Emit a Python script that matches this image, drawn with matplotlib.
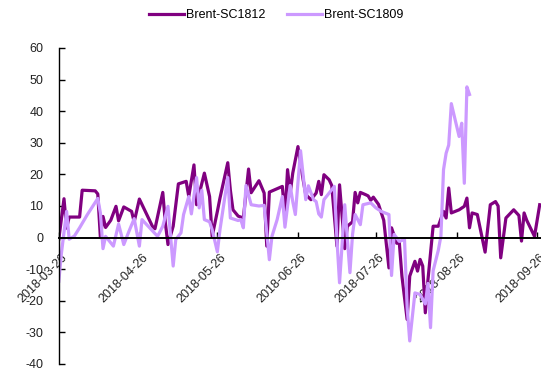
import numpy as np
import matplotlib
matplotlib.use("Agg")
import matplotlib.pyplot as plt
import matplotlib.dates as mdates
import matplotlib.transforms as mtransforms

plt.rcParams['font.family'] = ['Liberation Sans', 'DejaVu Sans']
plt.rcParams['axes.unicode_minus'] = False

# Brent - SC1812 价差
dates_1812 = [
    '2018-03-26', '2018-03-28', '2018-03-29', '2018-03-30', '2018-04-03', '2018-04-04',
    '2018-04-09', '2018-04-10', '2018-04-11', '2018-04-12', '2018-04-13', '2018-04-15',
    '2018-04-17', '2018-04-18', '2018-04-20', '2018-04-23', '2018-04-24', '2018-04-26',
    '2018-05-01', '2018-05-02', '2018-05-05', '2018-05-06', '2018-05-07', '2018-05-09',
    '2018-05-11', '2018-05-14', '2018-05-15', '2018-05-17', '2018-05-18', '2018-05-21',
    '2018-05-23', '2018-05-24', '2018-05-26', '2018-05-27', '2018-05-30', '2018-05-31',
    '2018-06-01', '2018-06-03', '2018-06-05', '2018-06-07', '2018-06-08', '2018-06-11',
    '2018-06-13', '2018-06-14', '2018-06-15', '2018-06-20', '2018-06-21', '2018-06-22',
    '2018-06-23', '2018-06-24', '2018-06-26', '2018-06-28', '2018-06-29', '2018-07-01',
    '2018-07-03', '2018-07-04', '2018-07-05', '2018-07-06', '2018-07-08', '2018-07-09',
    '2018-07-11', '2018-07-12', '2018-07-14', '2018-07-15', '2018-07-17', '2018-07-18',
    '2018-07-19', '2018-07-20', '2018-07-22', '2018-07-23', '2018-07-24', '2018-07-25',
    '2018-07-27', '2018-07-29', '2018-07-31', '2018-08-01', '2018-08-03', '2018-08-04',
    '2018-08-05', '2018-08-07', '2018-08-08', '2018-08-10', '2018-08-11', '2018-08-12',
    '2018-08-13', '2018-08-14', '2018-08-15', '2018-08-17', '2018-08-19', '2018-08-21',
    '2018-08-22', '2018-08-23', '2018-08-24', '2018-08-27', '2018-08-29', '2018-08-30',
    '2018-08-31', '2018-09-01', '2018-09-03', '2018-09-06', '2018-09-08', '2018-09-10',
    '2018-09-11', '2018-09-12', '2018-09-14', '2018-09-17', '2018-09-19', '2018-09-20',
    '2018-09-21', '2018-09-22', '2018-09-25', '2018-09-27',
]
vals_1812 = [
    -0.5, 12.3, 3.0, 6.5, 6.5, 15.0,
    14.8, 13.8, 0.0, 6.7, 3.2, 5.5,
    9.9, 5.3, 9.7, 8.3, 5.0, 12.2,
    3.6, 2.8, 14.3, 4.6, -2.2, 3.6,
    17.0, 17.8, 13.0, 23.0, 10.4, 20.4,
    13.0, 0.4, 8.3, 12.5, 23.7, 15.0,
    8.8, 6.8, 6.2, 21.7, 14.2, 18.0,
    14.1, -2.7, 14.4, 16.2, 6.5, 21.5,
    14.0, 20.4, 28.8, 18.3, 13.6, 12.0,
    14.1, 17.8, 13.6, 19.9, 18.3, 16.5,
    -2.7, 16.7, -3.5, 3.6, 5.0, 14.3,
    11.0, 14.3, 13.6, 13.2, 11.8, 12.8,
    10.5, 5.5, -9.6, 3.1, -1.8, -1.7,
    -12.2, -25.9, -12.2, -7.5, -10.6, -6.9,
    -9.0, -23.8, -13.5, 3.6, 3.6, 8.3,
    6.2, 15.7, 7.8, 8.8, 9.9, 12.5,
    3.1, 7.8, 7.3, -4.6, 10.4, 11.4,
    10.0, -6.4, 6.2, 8.8, 7.0, -1.1,
    7.8, 5.5, 0.4, 10.4,
]

# Brent - SC1809 价差
dates_1809 = [
    '2018-03-26', '2018-03-27', '2018-03-29', '2018-03-30', '2018-04-01', '2018-04-03',
    '2018-04-06', '2018-04-10', '2018-04-11', '2018-04-12', '2018-04-13', '2018-04-16',
    '2018-04-18', '2018-04-20', '2018-04-22', '2018-04-24', '2018-04-26', '2018-04-27',
    '2018-05-03', '2018-05-05', '2018-05-07', '2018-05-09', '2018-05-10', '2018-05-12',
    '2018-05-13', '2018-05-15', '2018-05-16', '2018-05-18', '2018-05-19', '2018-05-20',
    '2018-05-21', '2018-05-23', '2018-05-24', '2018-05-26', '2018-05-27', '2018-05-30',
    '2018-05-31', '2018-06-03', '2018-06-04', '2018-06-05', '2018-06-06', '2018-06-08',
    '2018-06-11', '2018-06-13', '2018-06-15', '2018-06-16', '2018-06-18', '2018-06-20',
    '2018-06-21', '2018-06-23', '2018-06-24', '2018-06-25', '2018-06-27', '2018-06-29',
    '2018-06-30', '2018-07-02', '2018-07-03', '2018-07-04', '2018-07-05', '2018-07-06',
    '2018-07-08', '2018-07-10', '2018-07-11', '2018-07-12', '2018-07-13', '2018-07-14',
    '2018-07-16', '2018-07-17', '2018-07-18', '2018-07-20', '2018-07-21', '2018-07-24',
    '2018-07-26', '2018-07-28', '2018-07-31', '2018-08-01', '2018-08-02', '2018-08-04',
    '2018-08-06', '2018-08-07', '2018-08-08', '2018-08-10', '2018-08-12', '2018-08-14',
    '2018-08-15', '2018-08-16', '2018-08-17', '2018-08-19', '2018-08-20', '2018-08-21',
    '2018-08-22', '2018-08-23', '2018-08-24', '2018-08-27', '2018-08-28', '2018-08-29',
    '2018-08-30', '2018-08-31',
]
vals_1809 = [
    -13.8, -5.0, 8.3, -0.5, 0.5, 3.1,
    7.3, 12.4, 7.8, -3.5, 0.4, -2.7,
    4.3, -2.2, 2.0, 6.0, -2.7, 5.7,
    0.4, 3.6, 9.9, -9.0, -0.6, 1.5,
    7.3, 13.0, 7.5, 19.0, 9.4, 15.0,
    5.7, 5.0, 2.5, -4.5, 2.5, 19.0,
    6.2, 5.4, 5.7, 3.1, 16.5, 10.4,
    10.0, 10.2, -7.0, 0.4, 5.7, 13.0,
    3.3, 16.5, 11.4, 7.3, 27.5, 12.0,
    16.4, 12.0, 11.4, 7.5, 6.5, 12.0,
    14.1, 16.2, -0.6, -14.3, -2.0, 10.4,
    -11.1, 1.0, 7.3, 4.1, 10.4, 11.0,
    9.4, 8.3, 7.3, -12.0, 1.0, -1.2,
    -0.6, -22.0, -32.7, -17.5, -18.0, -21.0,
    -14.5, -28.5, -10.5, -4.0, 0.5, 21.5,
    26.7, 29.3, 42.4, 32.0, 36.2, 17.2,
    47.7, 45.3,
]

x_1812 = np.array(dates_1812, dtype='datetime64[D]')
x_1809 = np.array(dates_1809, dtype='datetime64[D]')

W, H = 541, 368
fig = plt.figure(figsize=(W / 100, H / 100), dpi=100)
ax = fig.add_axes([58.8 / W, 4 / H, 1 - 58.8 / W, 316 / H])

l1, = ax.plot(x_1812, vals_1812, color='#800080', lw=2.3, label='Brent-SC1812')
l2, = ax.plot(x_1809, vals_1809, color='#CC99FF', lw=2.3, label='Brent-SC1809')

ax.set_ylim(-40, 60)
ax.set_yticks(np.arange(-40, 61, 10))
ax.set_xlim(np.datetime64('2018-03-26'), np.datetime64('2018-09-27T12'))
ax.xaxis.set_major_locator(mdates.MonthLocator(bymonthday=26))
ax.xaxis.set_major_formatter(mdates.DateFormatter('%Y-%m-%d'))

# 横轴放在 0 处
ax.spines['bottom'].set_position(('data', 0))
ax.spines['bottom'].set_linewidth(1.4)
ax.spines['left'].set_linewidth(1.0)
for s in ['top', 'right']:
    ax.spines[s].set_visible(False)

ax.tick_params(axis='both', direction='in', length=4, width=1, labelsize=9,
               labelcolor='#222222')
ax.tick_params(axis='y', pad=11)
ax.tick_params(axis='x', pad=10)
shift = mtransforms.ScaledTranslation(2.5 / 100, 0, fig.dpi_scale_trans)
for lbl in ax.get_xticklabels():
    lbl.set_rotation(45)
    lbl.set_ha('right')
    lbl.set_va('top')
    lbl.set_rotation_mode('anchor')
    lbl.set_transform(lbl.get_transform() + shift)

fig.legend(handles=[l1, l2], loc='center', bbox_to_anchor=(276 / W, 1 - 15 / H),
           ncol=2, frameon=False, fontsize=9, handlelength=2.8, handletextpad=0.2,
           columnspacing=1.7, borderaxespad=0, borderpad=0)

fig.savefig('out.png', dpi=100)
